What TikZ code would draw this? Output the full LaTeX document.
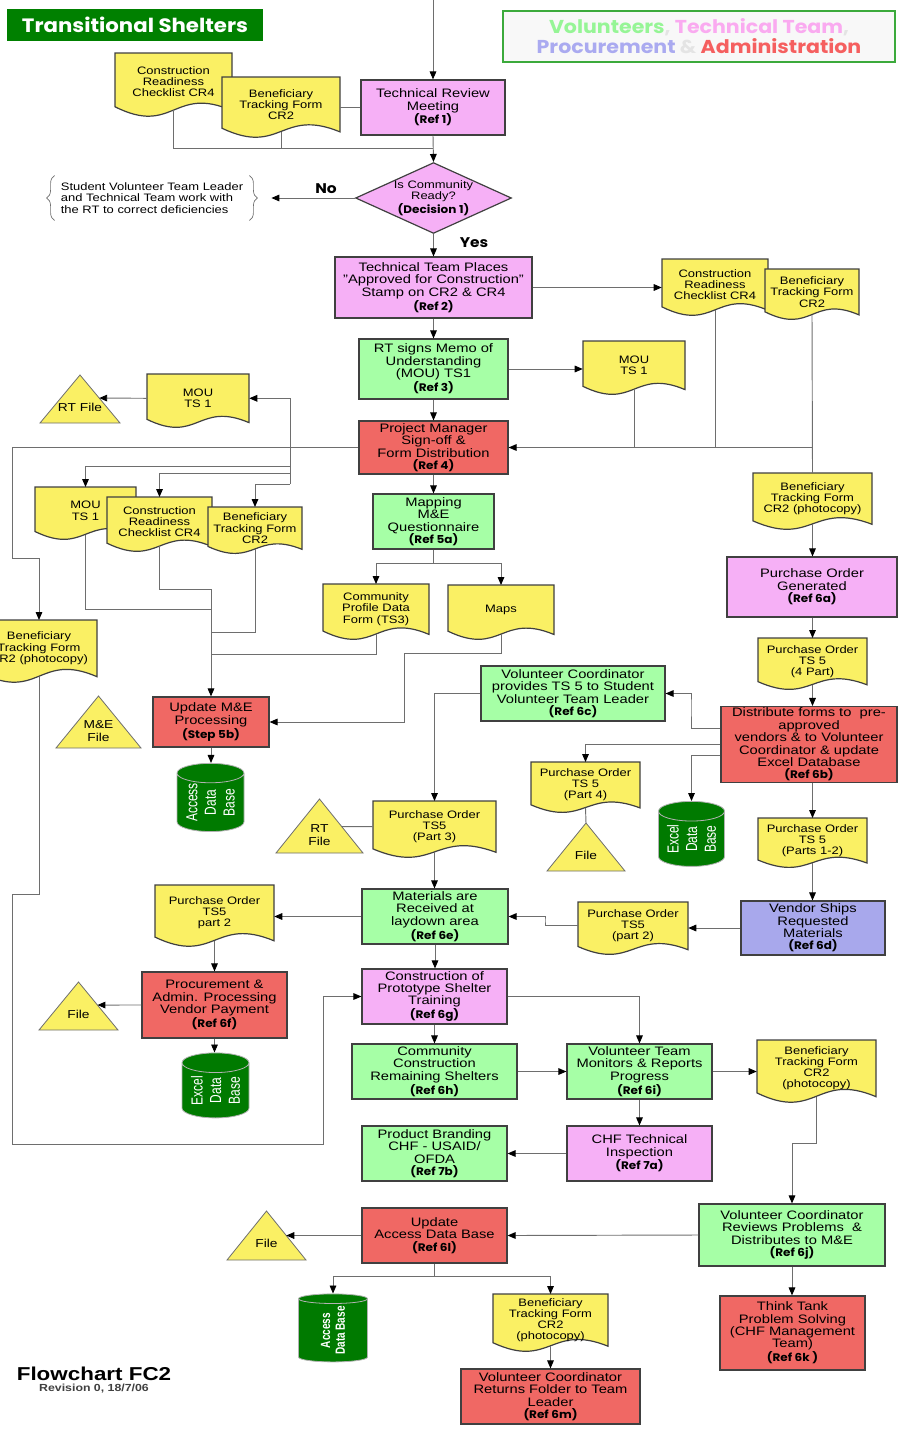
\documentclass[tikz,border=0pt]{standalone}
\usepackage{fontspec}
\setmainfont{Liberation Sans}[FakeStretch=1.2]
\newfontfamily\comicfont{Poppins}[FakeStretch=1.1]
\newfontfamily\dbfont{Liberation Sans}[FakeStretch=0.75]
\usetikzlibrary{arrows.meta,shapes.geometric,calc,decorations.pathreplacing}

\definecolor{docyellow}{RGB}{250,240,100}
\definecolor{techpink}{RGB}{246,176,246}
\definecolor{volgreen}{RGB}{166,255,166}
\definecolor{adminred}{RGB}{240,104,100}
\definecolor{procblue}{RGB}{168,168,236}
\definecolor{dbgreen}{RGB}{0,122,0}
\definecolor{titlegreen}{RGB}{0,128,0}
\definecolor{edgegray}{RGB}{64,64,64}
\definecolor{linegray}{RGB}{110,110,110}
\definecolor{legvol}{RGB}{150,245,150}
\definecolor{legtech}{RGB}{250,170,240}
\definecolor{legproc}{RGB}{170,170,240}
\definecolor{legadmin}{RGB}{245,95,95}
\definecolor{legsep}{RGB}{228,228,228}
\definecolor{legline}{RGB}{60,170,60}
\definecolor{legfill}{RGB}{248,248,248}

\newcommand{\boxfont}{\fontsize{9.2}{9.3}\selectfont}
\newcommand{\docfont}{\fontsize{8.1}{8.4}\selectfont}
\newcommand{\trifont}{\fontsize{8.6}{9.2}\selectfont}
\newcommand{\reft}[1]{{\comicfont\bfseries\fontsize{8.2}{9.3}\selectfont #1}}

% document shape: name, x1, y1, x2, y2 (lowest point of the wave), text
\newcommand{\docnode}[6]{%
  \draw[docshape] (#2,#3) -- (#4,#3) -- (#4,{#3+0.9*(#5-#3)})
    .. controls ({(#2+#4)/2},{#3+0.5*(#5-#3)}) and ({(#2+#4)/2},{#3+1.3*(#5-#3)}) .. (#2,{#3+0.84*(#5-#3)}) -- cycle;
  \node[doctext, minimum width={0.75pt*(#4-#2)}, minimum height={0.75pt*0.89*(#5-#3)}, anchor=north] (#1) at ({(#2+#4)/2},#3) {#6};}

% file triangle: name, apex x, apex y, base y, half width, text y, pos of side point, text
\newcommand{\filenode}[8]{%
  \draw[filetri] ({#2-#5},#4) -- (#2,#3) coordinate (#1-t) -- coordinate[pos=#7] (#1-e) ({#2+#5},#4) -- cycle;
  \node[tritext] (#1) at (#2,#6) {#8};}

\tikzset{
  proc/.style={draw=edgegray, line width=0.9pt, align=center, inner sep=1pt, font=\boxfont},
  boxsize/.style 2 args={minimum width=0.75pt*#1, minimum height=0.75pt*#2},
  decision/.style={shape=diamond, aspect=2.2, draw=edgegray, line width=0.9pt, fill=techpink, align=center, inner sep=0pt, font=\docfont},
  docshape/.style={draw=edgegray, line width=0.9pt, fill=docyellow},
  doctext/.style={align=center, inner sep=0pt, font=\docfont},
  filetri/.style={draw=linegray, line width=0.6pt, fill=docyellow},
  tritext/.style={align=center, inner sep=0pt, font=\trifont},
  dbase/.style={shape=cylinder, rotate=90, aspect=0.4, draw=gray!60, line width=0.6pt, fill=dbgreen, text=white, align=center, inner sep=0pt, font=\dbfont\fontsize{12}{14}\selectfont},
  notetext/.style={align=left, inner sep=0pt, font=\docfont},
  notebrace/.style={draw=linegray, line width=0.5pt, decorate, decoration={brace, amplitude=6pt}},
  answer/.style={inner sep=0pt, font=\comicfont\bfseries\fontsize{10.5}{12}\selectfont},
  titlebox/.style={fill=titlegreen, text=white, boxsize={256}{32}, font=\comicfont\bfseries\fontsize{14.5}{16}\selectfont},
  legendbox/.style={draw=legline, line width=1pt, fill=legfill, boxsize={392}{51}, align=center, font=\comicfont\bfseries\fontsize{14}{15}\selectfont},
  arr/.style={draw=linegray, line width=0.7pt, -{Triangle[length=6pt,width=5pt,color=black]}},
  ln/.style={draw=linegray, line width=0.7pt},
}

\begin{document}
\begin{tikzpicture}[x=0.75pt,y=0.75pt,yscale=-1,xscale=1]
\useasboundingbox (0,0) rectangle (898,1431);

% Title and legend
\node[titlebox] (title) at (135,25) {Transitional Shelters};
\node[legendbox] (legend) at (699,36.5) {{\color{legvol}Volunteers}{\color{legsep},} {\color{legtech}Technical Team}{\color{legsep},}\\{\color{legproc}Procurement} {\color{legsep}\&} {\color{legadmin}Administration}};

% Process boxes
\node[proc, fill=techpink, boxsize={144}{55}] (trm) at (433,107.5) {Technical Review\\Meeting\\\reft{(Ref 1)}};
\node[decision, boxsize={153}{70}] (dec) at (433.5,198) {Is Community\\Ready?\\\reft{(Decision 1)}};
\node[proc, fill=techpink, boxsize={197}{61}] (ttp) at (433.5,287.5) {Technical Team Places\\"Approved for Construction"\\Stamp on CR2 \& CR4\\\reft{(Ref 2)}};
\node[proc, fill=volgreen, boxsize={149}{60}] (rtm) at (433.5,369) {RT signs Memo of\\Understanding\\(MOU) TS1\\\reft{(Ref 3)}};
\node[proc, fill=adminred, boxsize={149}{53}] (pm) at (433.5,447.5) {Project Manager\\Sign-off \&\\Form Distribution\\\reft{(Ref 4)}};
\node[proc, fill=volgreen, boxsize={121}{55}] (mq) at (433.5,521.5) {Mapping\\M\&E\\Questionnaire\\\reft{(Ref 5a)}};
\node[proc, fill=adminred, boxsize={116}{50}] (ume) at (211,722) {Update M\&E\\Processing\\\reft{(Step 5b)}};
\node[proc, fill=volgreen, boxsize={184}{55}] (vcp) at (573,693.5) {Volunteer Coordinator\\provides TS 5 to Student\\Volunteer Team Leader\\\reft{(Ref 6c)}};
\node[proc, fill=techpink, boxsize={170}{60}] (pog) at (812,587) {Purchase Order\\Generated\\\reft{(Ref 6a)}};
\node[proc, fill=adminred, boxsize={176}{75}] (dfd) at (809,744.5) {Distribute forms to\ \ pre-\\approved\\vendors \& to Volunteer\\Coordinator \& update\\Excel Database\\\reft{(Ref 6b)}};
\node[proc, fill=procblue, boxsize={144}{54}] (vsm) at (813,928) {Vendor Ships\\Requested\\Materials\\\reft{(Ref 6d)}};
\node[proc, fill=volgreen, boxsize={146}{55}] (mra) at (435,916.5) {Materials are\\Received at\\laydown area\\\reft{(Ref 6e)}};
\node[proc, fill=adminred, boxsize={145}{66}] (pav) at (214.5,1005) {Procurement \&\\Admin. Processing\\Vendor Payment\\\reft{(Ref 6f)}};
\node[proc, fill=techpink, boxsize={145}{55}] (cps) at (434.5,996.5) {Construction of\\Prototype Shelter\\Training\\\reft{(Ref 6g)}};
\node[proc, fill=volgreen, boxsize={165}{55}] (crs) at (434.5,1071.5) {Community\\Construction\\Remaining Shelters\\\reft{(Ref 6h)}};
\node[proc, fill=volgreen, boxsize={145}{55}] (vtm) at (639.5,1071.5) {Volunteer Team\\Monitors \& Reports\\Progress\\\reft{(Ref 6i)}};
\node[proc, fill=techpink, boxsize={145}{55}] (cti) at (639.5,1153.5) {CHF Technical\\Inspection\\\reft{(Ref 7a)}};
\node[proc, fill=volgreen, boxsize={145}{55}] (pb) at (434.5,1153.5) {Product Branding\\CHF - USAID/\\OFDA\\\reft{(Ref 7b)}};
\node[proc, fill=volgreen, boxsize={186}{62}] (vcr) at (792,1235) {Volunteer Coordinator\\Reviews Problems\ \ \&\\Distributes to M\&E\\\reft{(Ref 6j)}};
\node[proc, fill=adminred, boxsize={145}{74}] (ttk) at (792.5,1333) {Think Tank\\Problem Solving\\(CHF Management\\Team)\\\reft{(Ref 6k )}};
\node[proc, fill=adminred, boxsize={145}{55}] (uad) at (434.5,1235.5) {Update\\Access Data Base\\\reft{(Ref 6l)}};
\node[proc, fill=adminred, boxsize={179}{55}] (vcret) at (550.5,1396.5) {Volunteer Coordinator\\Returns Folder to Team\\Leader\\\reft{(Ref 6m)}};

% Documents
\docnode{crc1}{115}{53}{232}{117}{Construction\\Readiness\\Checklist CR4}
\docnode{btf1}{222}{77}{340}{138}{Beneficiary\\Tracking Form\\CR2}
\docnode{crc2}{662}{259}{768}{316}{Construction\\Readiness\\Checklist CR4}
\docnode{btf2}{765}{269}{859}{320}{Beneficiary\\Tracking Form\\CR2}
\docnode{mou2}{583}{341}{685}{395}{MOU\\TS 1}
\docnode{mou1}{147}{374}{249}{428}{MOU\\TS 1}
\docnode{mou3}{35}{487}{136}{540}{MOU\\TS 1}
\docnode{crc3}{107}{497}{212}{552}{Construction\\Readiness\\Checklist CR4}
\docnode{btf3}{208}{507}{302}{554}{Beneficiary\\Tracking Form\\CR2}
\docnode{cpd}{323}{584}{429}{640}{Community\\Profile Data\\Form (TS3)}
\docnode{maps}{448}{585}{554}{640}{Maps}
\docnode{btfL}{-19}{620}{97}{683}{Beneficiary\\Tracking Form\\CR2 (photocopy)}
\docnode{btfR}{753}{473}{872}{530}{Beneficiary\\Tracking Form\\CR2 (photocopy)}
\docnode{po4}{758}{638}{867}{690}{Purchase Order\\TS 5\\(4 Part)}
\docnode{pop4}{531}{762}{640}{813}{Purchase Order\\TS 5\\(Part 4)}
\docnode{po12}{758}{818}{867}{868}{Purchase Order\\TS 5\\(Parts 1-2)}
\docnode{po2r}{578}{902}{688}{955}{Purchase Order\\TS5\\(part 2)}
\docnode{po3}{373}{801}{496}{858}{Purchase Order\\TS5\\(Part 3)}
\docnode{po2l}{155}{885}{274}{947}{Purchase Order\\TS5\\part 2}
\docnode{btf5}{757}{1040}{876}{1103}{Beneficiary\\Tracking Form\\CR2\\(photocopy)}
\docnode{btf6}{493}{1294}{608}{1352}{Beneficiary\\Tracking Form\\CR2\\(photocopy)}

% Files
\filenode{rtf1}{80}{375}{423}{40}{407}{0.48}{RT File}
\filenode{mef}{98.5}{696}{748}{42.5}{731}{0.5}{M\&E\\File}
\filenode{rtf2}{319.5}{799}{853}{43.5}{835}{0.51}{RT\\File}
\filenode{file1}{586}{823}{871}{39}{855}{0.5}{File}
\filenode{file2}{78.5}{982}{1030}{39.5}{1014}{0.48}{File}
\filenode{file3}{266.5}{1211}{1260}{39.5}{1243}{0.5}{File}

% Data bases
\node[dbase, boxsize={67}{65}] (accdb1) at (210.5,802.5) {Access\\Data\\Base};
\node[dbase, boxsize={66}{65}] (exdb1) at (691.5,839) {Excel\\Data\\Base};
\node[dbase, boxsize={67}{65}] (exdb2) at (215.5,1090.5) {Excel\\Data\\Base};
\node[dbase, boxsize={69}{68}, font=\dbfont\bfseries\fontsize{10}{11}\selectfont] (accdb2) at (333,1330.5) {Access\\Data Base};

% Note with braces
\node[notetext] (fixnote) at (152,198) {Student Volunteer Team Leader\\and Technical Team work with\\the RT to correct deficiencies};
\draw[notebrace] ($(fixnote.south west)+(-6,7)$) -- ($(fixnote.north west)+(-6,-7)$);
\draw[notebrace] ($(fixnote.north east)+(6,-7)$) -- ($(fixnote.south east)+(6,7)$);
\node[answer] (nolabel) at (326,189) {No};
\node[answer] (yeslabel) at (474,243) {Yes};

% Footer
\node[font=\bfseries\fontsize{14}{15}\selectfont] (fc) at (94,1374) {Flowchart FC2};
\node[font=\bfseries\fontsize{7.7}{9}\selectfont, text=edgegray] (rev) at (94,1389) {Revision 0, 18/7/06};

% Connectors
\coordinate (entry) at (433,0);
\draw[arr] (entry) -- (trm.north);
\coordinate (j1) at (433,148);
\draw[ln] (crc1.south) |- (j1);
\draw[ln] (btf1.south) -- (btf1.south |- j1);
\draw[ln] (trm.west) -- (trm.west -| btf1.east);
\draw[arr] (trm.south) -- (dec.north);
\draw[arr] (dec.west) -- ([xshift=21pt]fixnote.east);
\draw[arr] (dec.south) -- (ttp.north);
\draw[arr] (ttp.east) -- (ttp.east -| crc2.west);
\draw[arr] (ttp.south) -- (rtm.north);
\draw[arr] (rtm.east) -- (rtm.east -| mou2.west);
\draw[arr] (rtm.south) -- (pm.north);
\coordinate (j2) at (btf2.south |- pm.east);
\draw[ln] (btf2.south) -- (btfR.north);
\draw[ln] (crc2.south) -- (crc2.south |- j2);
\draw[ln] (mou2.south) -- (mou2.south |- j2);
\draw[arr] (j2) -- (pm.east);
% left of project manager
\draw[arr] (pm.west) -| (12,558) -| (btfL.north);
\coordinate (j3) at (290,447.5);
\coordinate (t1) at (290,466);
\coordinate (t2) at (290,473);
\coordinate (t3) at (290,484);
\draw[arr] (j3) |- (mou1.east);
\draw[ln] (j3) -- (t3);
\draw[arr] (t1) -| (mou3.north);
\draw[arr] (t2) -| (crc3.north);
\draw[arr] (t3) -| (btf3.north);
\draw[arr] (mou1.west) -- (rtf1-e);
\draw[arr] (pm.south) -- (mq.north);
\coordinate (j4) at (433.5,563);
\draw[ln] (mq.south) -- (j4);
\draw[arr] (j4) -| (cpd.north);
\draw[arr] (j4) -| (maps.north);
\coordinate (j5) at (211,589);
\draw[ln] (mou3.south) |- (211,609);
\draw[ln] (crc3.south) |- (j5);
\draw[ln] (btf3.south) |- (211,632);
\draw[ln] (cpd.south) |- (211,654);
\draw[arr] (j5) -- (ume.north);
\draw[arr] (maps.south) |- (404,653) |- (ume.east);
\draw[arr] (ume.south) -- (ume.south |- accdb1.top);
% purchase orders
\draw[arr] (btfR.south) -- (btfR.south |- pog.north);
\draw[arr] (po4.north |- pog.south) -- (po4.north);
\draw[arr] (po4.south) -- (po4.south |- dfd.north);
\draw[arr] (dfd.west |- 0,728) -| (691,705) |- (vcp.east);
\draw[arr] (vcp.west) -| (po3.north);
\draw[arr] (dfd.west) -| (pop4.north);
\draw[arr] (dfd.west |- 0,755) -| (exdb1.top);
\draw[ln] (pop4.south) -- (file1-t);
\draw[arr] (po12.north |- dfd.south) -- (po12.north);
\draw[arr] (po12.south) -- (po12.south |- vsm.north);
\draw[arr] (vsm.west) -- (vsm.west -| po2r.east);
\draw[arr] (po2r.west) -| (545,920) |- (mra.east);
\draw[ln] (po3.west) -- (rtf2-e);
\draw[arr] (po3.south) -- (po3.south |- mra.north);
\draw[arr] (mra.west) -- (mra.west -| po2l.east);
\draw[arr] (po2l.south) -- (po2l.south |- pav.north);
\draw[arr] (pav.west) -- (file2-e);
\draw[arr] (pav.south) -- (pav.south |- exdb2.top);
% construction
\draw[arr] (btfL.south) |- (12,894) |- (323,1144) |- (cps.west);
\draw[arr] (mra.south) -- (mra.south |- cps.north);
\draw[arr] (cps.east) -| (vtm.north);
\draw[arr] (cps.south) -- (crs.north);
\draw[arr] (crs.east) -- (vtm.west);
\draw[arr] (vtm.east) -- (vtm.east -| btf5.west);
\draw[arr] (vtm.south) -- (cti.north);
\draw[arr] (cti.west) -- (pb.east);
\draw[arr] (btf5.south) |- (792,1143) -- (vcr.north);
\draw[arr] (vcr.west) -- (uad.east);
\draw[arr] (vcr.south) -- (vcr.south |- ttk.north);
\draw[arr] (uad.west) -- (file3-e);
\coordinate (j6) at (434.5,1276);
\draw[ln] (uad.south) -- (j6);
\draw[arr] (j6) -| (accdb2.top);
\draw[arr] (j6) -| (btf6.north);
\draw[arr] (btf6.south) -- (btf6.south |- vcret.north);
\end{tikzpicture}
\end{document}
